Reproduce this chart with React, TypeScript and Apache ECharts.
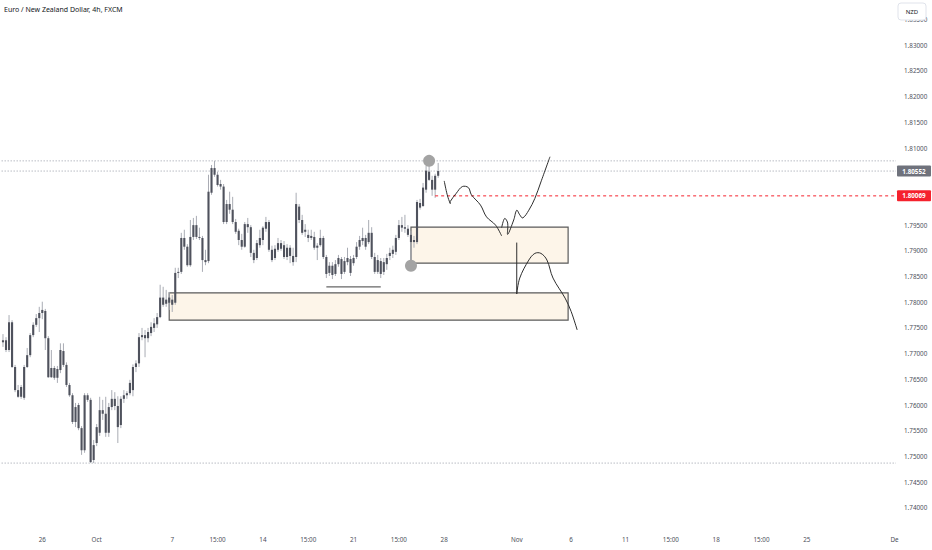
import React, { useEffect, useRef } from 'react';
import * as echarts from 'echarts';

const TITLE = 'Euro / New Zealand Dollar, 4h, FXCM';
const CURRENCY = 'NZD';
const SLOT_COUNT = 296;
const Y_MIN = 1.735;
const Y_MAX = 1.8388;
const Y_STEP = 0.005;

const X_LABELS: [number, string][] = [
  [13, '26'], [31, 'Oct'], [56, '7'], [71, '15:00'], [86, '14'], [101, '15:00'],
  [116, '21'], [131, '15:00'], [146, '28'], [170, 'Nov'], [188, '6'], [206, '11'],
  [221, '15:00'], [236, '18'], [251, '15:00'], [266, '25'], [295, 'De'],
];

// [open, close, low, high]
const CANDLES: number[][] = [
  [1.7722, 1.7726, 1.7713, 1.7738], [1.7726, 1.7707, 1.7703, 1.7732], [1.7707, 1.7761, 1.7703, 1.7775],
  [1.7761, 1.7674, 1.7672, 1.7765], [1.7674, 1.7629, 1.7625, 1.7678], [1.7629, 1.7616, 1.7614, 1.7639],
  [1.7616, 1.7635, 1.7612, 1.7639], [1.7614, 1.7674, 1.7610, 1.7678], [1.7674, 1.7697, 1.7672, 1.7711],
  [1.7697, 1.7736, 1.7693, 1.7740], [1.7736, 1.7756, 1.7732, 1.7761], [1.7756, 1.7769, 1.7752, 1.7777],
  [1.7769, 1.7779, 1.7742, 1.7791], [1.7779, 1.7785, 1.7767, 1.7801], [1.7783, 1.7730, 1.7707, 1.7787],
  [1.7730, 1.7654, 1.7653, 1.7734], [1.7654, 1.7672, 1.7653, 1.7707], [1.7672, 1.7653, 1.7649, 1.7676],
  [1.7653, 1.7670, 1.7643, 1.7676], [1.7668, 1.7707, 1.7662, 1.7720], [1.7705, 1.7678, 1.7674, 1.7720],
  [1.7678, 1.7639, 1.7635, 1.7683], [1.7639, 1.7619, 1.7616, 1.7643], [1.7619, 1.7567, 1.7563, 1.7623],
  [1.7567, 1.7596, 1.7557, 1.7604], [1.7600, 1.7555, 1.7551, 1.7604], [1.7555, 1.7512, 1.7503, 1.7559],
  [1.7512, 1.7619, 1.7507, 1.7623], [1.7619, 1.7610, 1.7606, 1.7623], [1.7610, 1.7489, 1.7487, 1.7614],
  [1.7493, 1.7522, 1.7487, 1.7532], [1.7526, 1.7557, 1.7520, 1.7563], [1.7546, 1.7590, 1.7540, 1.7616],
  [1.7590, 1.7583, 1.7571, 1.7610], [1.7583, 1.7546, 1.7538, 1.7616], [1.7546, 1.7596, 1.7538, 1.7604],
  [1.7596, 1.7612, 1.7590, 1.7629], [1.7612, 1.7598, 1.7590, 1.7625], [1.7598, 1.7557, 1.7526, 1.7617],
  [1.7561, 1.7612, 1.7555, 1.7617], [1.7612, 1.7619, 1.7604, 1.7629], [1.7619, 1.7623, 1.7612, 1.7627],
  [1.7623, 1.7643, 1.7619, 1.7649], [1.7629, 1.7674, 1.7617, 1.7679], [1.7674, 1.7681, 1.7664, 1.7687],
  [1.7681, 1.7732, 1.7674, 1.7740], [1.7732, 1.7736, 1.7726, 1.7750], [1.7736, 1.7730, 1.7693, 1.7746],
  [1.7730, 1.7742, 1.7722, 1.7750], [1.7740, 1.7752, 1.7734, 1.7761], [1.7750, 1.7759, 1.7742, 1.7769],
  [1.7757, 1.7771, 1.7750, 1.7779], [1.7771, 1.7809, 1.7769, 1.7834], [1.7809, 1.7795, 1.7791, 1.7830],
  [1.7797, 1.7805, 1.7791, 1.7824], [1.7799, 1.7809, 1.7785, 1.7820], [1.7805, 1.7795, 1.7781, 1.7814],
  [1.7799, 1.7857, 1.7795, 1.7867], [1.7857, 1.7859, 1.7847, 1.7867], [1.7859, 1.7925, 1.7855, 1.7935],
  [1.7925, 1.7908, 1.7902, 1.7941], [1.7908, 1.7872, 1.7869, 1.7913], [1.7872, 1.7927, 1.7869, 1.7960],
  [1.7927, 1.7950, 1.7921, 1.7964], [1.7950, 1.7927, 1.7923, 1.7968], [1.7927, 1.7925, 1.7921, 1.7945],
  [1.7925, 1.7882, 1.7859, 1.7929], [1.7882, 1.7878, 1.7872, 1.7902], [1.7880, 1.8015, 1.7876, 1.8048],
  [1.8013, 1.8061, 1.8009, 1.8067], [1.8061, 1.8048, 1.8044, 1.8075], [1.8048, 1.8028, 1.8025, 1.8054],
  [1.8030, 1.8025, 1.8019, 1.8038], [1.8025, 1.7956, 1.7952, 1.8030], [1.7956, 1.7991, 1.7952, 1.7999],
  [1.7991, 1.7980, 1.7972, 1.8015], [1.7980, 1.7956, 1.7952, 1.8005], [1.7956, 1.7937, 1.7933, 1.7962],
  [1.7939, 1.7921, 1.7911, 1.7943], [1.7921, 1.7908, 1.7902, 1.7933], [1.7908, 1.7952, 1.7906, 1.7956],
  [1.7952, 1.7946, 1.7935, 1.7964], [1.7946, 1.7896, 1.7888, 1.7950], [1.7896, 1.7882, 1.7876, 1.7902],
  [1.7886, 1.7915, 1.7882, 1.7921], [1.7911, 1.7925, 1.7906, 1.7941], [1.7921, 1.7945, 1.7911, 1.7948],
  [1.7943, 1.7956, 1.7937, 1.7966], [1.7956, 1.7902, 1.7898, 1.7960], [1.7902, 1.7882, 1.7878, 1.7910],
  [1.7886, 1.7904, 1.7882, 1.7911], [1.7902, 1.7915, 1.7898, 1.7925], [1.7915, 1.7904, 1.7900, 1.7921],
  [1.7911, 1.7888, 1.7884, 1.7919], [1.7888, 1.7906, 1.7882, 1.7913], [1.7906, 1.7890, 1.7876, 1.7911],
  [1.7890, 1.7878, 1.7871, 1.7906], [1.7888, 1.7991, 1.7878, 1.8013], [1.7986, 1.7960, 1.7954, 1.7991],
  [1.7960, 1.7935, 1.7931, 1.7970], [1.7937, 1.7941, 1.7927, 1.7952], [1.7931, 1.7925, 1.7917, 1.7941],
  [1.7925, 1.7929, 1.7921, 1.7941], [1.7927, 1.7906, 1.7902, 1.7937], [1.7906, 1.7910, 1.7882, 1.7915],
  [1.7911, 1.7925, 1.7908, 1.7941], [1.7925, 1.7888, 1.7884, 1.7929], [1.7888, 1.7855, 1.7847, 1.7892],
  [1.7857, 1.7871, 1.7851, 1.7878], [1.7871, 1.7853, 1.7845, 1.7878], [1.7855, 1.7874, 1.7851, 1.7882],
  [1.7874, 1.7886, 1.7869, 1.7892], [1.7884, 1.7855, 1.7845, 1.7888], [1.7859, 1.7880, 1.7855, 1.7888],
  [1.7878, 1.7886, 1.7872, 1.7906], [1.7884, 1.7857, 1.7851, 1.7890], [1.7876, 1.7886, 1.7871, 1.7892],
  [1.7888, 1.7908, 1.7884, 1.7917], [1.7908, 1.7921, 1.7902, 1.7929], [1.7919, 1.7925, 1.7911, 1.7945],
  [1.7925, 1.7908, 1.7902, 1.7931], [1.7917, 1.7935, 1.7913, 1.7960], [1.7935, 1.7888, 1.7884, 1.7946],
  [1.7888, 1.7859, 1.7855, 1.7896], [1.7859, 1.7882, 1.7855, 1.7892], [1.7880, 1.7855, 1.7847, 1.7886],
  [1.7859, 1.7878, 1.7853, 1.7886], [1.7874, 1.7886, 1.7863, 1.7894], [1.7890, 1.7896, 1.7882, 1.7906],
  [1.7894, 1.7902, 1.7886, 1.7910], [1.7898, 1.7925, 1.7892, 1.7931], [1.7925, 1.7950, 1.7921, 1.7960],
  [1.7950, 1.7945, 1.7937, 1.7966], [1.7946, 1.7943, 1.7935, 1.7970], [1.7943, 1.7931, 1.7927, 1.7950],
  [1.7931, 1.7917, 1.7872, 1.7939], [1.7917, 1.7921, 1.7906, 1.7929], [1.7917, 1.7995, 1.7913, 1.7999],
  [1.7993, 1.7984, 1.7980, 1.8001], [1.7987, 1.8023, 1.7986, 1.8032], [1.8019, 1.8056, 1.8013, 1.8065],
  [1.8054, 1.8038, 1.8036, 1.8065], [1.8038, 1.8019, 1.8007, 1.8046], [1.8019, 1.8046, 1.8003, 1.8050],
  [1.8046, 1.80552, 1.8042, 1.8071],
];

const LAST_PRICE = 1.80552;
const RAY_PRICE = 1.80069;
const RAY_START = 143;
const H_LEVELS = [1.8075, 1.7487];

// zones: [startIndex, endIndex, topPrice, bottomPrice]
const ZONES: number[][] = [
  [135.3, 186.5, 1.7946, 1.7876],
  [54.7, 186.5, 1.7818, 1.7765],
];
// support line under lows: [startIndex, endIndex, price]
const SUPPORT_LINE = [106.9, 125.0, 1.7830];
// marker circles: [index, price]
const MARKERS: number[][] = [[140.6, 1.8075], [135.3, 1.7871]];

// freehand projection paths: [index, price]
const PATH_A: number[][] = [
  [146.3, 1.8036], [147.1, 1.8009], [147.6, 1.7992], [148.4, 1.7996], [149.8, 1.8012],
  [152.0, 1.8025], [153.7, 1.8023], [155.3, 1.8009], [157.5, 1.7989], [160.3, 1.7966],
  [162.5, 1.7950], [165.2, 1.7929],
];
const PATH_B: number[][] = [
  [164.5, 1.7945], [166.0, 1.7963], [166.7, 1.7954], [167.4, 1.7932], [168.9, 1.7960],
  [170.0, 1.7979], [171.1, 1.7970], [172.4, 1.7964], [174.0, 1.7979], [175.7, 1.8002],
  [177.9, 1.8034], [180.6, 1.8083],
];
const PATH_C_DROP: number[][] = [[169.6, 1.7916], [169.6, 1.7816]];
const PATH_C: number[][] = [
  [169.6, 1.7816], [171.3, 1.7847], [174.0, 1.7882], [176.3, 1.7895], [177.9, 1.7895],
  [179.5, 1.7882], [182.3, 1.7847], [185.6, 1.7808], [187.8, 1.7782], [189.8, 1.7746],
];

const FONT = '"Noto Sans", "DejaVu Sans", sans-serif';
const BODY = '#4f525d';
const WICK = '#a9acb4';
const LEVEL = '#b9bcc4';
const ZONE_FILL = '#fdf5e9';
const ZONE_STROKE = '#5a5a5a';
const INK = '#2e2e2e';
const RED = '#f5222d';
const LABEL_GRAY = '#6f727c';
const AXIS_TEXT = '#4c4f5a';

export default function App() {
  const ref = useRef<HTMLDivElement>(null);

  useEffect(() => {
    document.body.style.margin = '0';
    const chart = echarts.init(ref.current!, null, { renderer: 'svg' });
    const labelMap = new Map<number, string>(X_LABELS);
    const cats = Array.from({ length: SLOT_COUNT }, (_, i) => String(i));
    const candleData = CANDLES.map((c, i) => [i, c[0], c[1], c[2], c[3]]);

    const pts = (api: any, list: number[][]) => list.map((p) => api.coord([p[0], p[1]]));
    const hiddenByTag = (v: number) =>
      Math.abs(v - LAST_PRICE) < 0.0016 || Math.abs(v - RAY_PRICE) < 0.0016;

    const option: any = {
      animation: false,
      backgroundColor: '#ffffff',
      textStyle: { fontFamily: FONT },
      grid: { left: 0, right: 36, top: 0, height: 533.5, containLabel: false },
      xAxis: {
        type: 'category',
        data: cats,
        boundaryGap: true,
        axisLine: { show: false },
        axisTick: { show: false },
        splitLine: { show: false },
        axisLabel: {
          interval: 0,
          margin: 3,
          fontSize: 6.3,
          color: AXIS_TEXT,
          fontFamily: FONT,
          formatter: (_v: string, i: number) => labelMap.get(i) || '',
        },
      },
      yAxis: {
        type: 'value',
        position: 'right',
        min: Y_MIN,
        max: Y_MAX,
        interval: Y_STEP,
        axisLine: { show: false },
        axisTick: { show: false },
        splitLine: { show: false },
        axisLabel: {
          margin: 8,
          fontSize: 6.3,
          color: AXIS_TEXT,
          fontFamily: FONT,
          showMaxLabel: false,
          formatter: (v: number) =>
            v < 1.7399 || v > 1.8351 || hiddenByTag(v) ? '' : v.toFixed(5),
        },
      },
      series: [
        {
          type: 'custom',
          name: 'zones',
          silent: true,
          z: 1,
          data: [[0, LAST_PRICE]],
          encode: { x: 0, y: 1 },
          renderItem: (params: any, api: any) => {
            const cs = params.coordSys;
            const left = cs.x;
            const right = cs.x + cs.width;
            const children: any[] = [];
            [...H_LEVELS, LAST_PRICE].forEach((lv) => {
              const y = api.coord([0, lv])[1];
              children.push({
                type: 'line',
                shape: { x1: left, y1: y, x2: right, y2: y },
                style: { stroke: LEVEL, lineWidth: 1, lineDash: [1.5, 1.5] },
              });
            });
            ZONES.forEach((z) => {
              const a = api.coord([z[0], z[2]]);
              const b = api.coord([z[1], z[3]]);
              children.push({
                type: 'rect',
                shape: { x: a[0], y: a[1], width: b[0] - a[0], height: b[1] - a[1] },
                style: { fill: ZONE_FILL, stroke: ZONE_STROKE, lineWidth: 1.2 },
              });
            });
            return { type: 'group', children };
          },
        },
        {
          type: 'custom',
          name: 'EURNZD',
          silent: true,
          z: 2,
          data: candleData,
          encode: { x: 0, y: [1, 2, 3, 4] },
          renderItem: (_params: any, api: any) => {
            const i = api.value(0);
            const o = api.coord([i, api.value(1)]);
            const c = api.coord([i, api.value(2)]);
            const l = api.coord([i, api.value(3)]);
            const h = api.coord([i, api.value(4)]);
            const w = api.size([1, 0])[0] * 0.7;
            const x = o[0];
            const top = Math.min(o[1], c[1]);
            const hgt = Math.max(1, Math.abs(o[1] - c[1]));
            return {
              type: 'group',
              children: [
                { type: 'line', shape: { x1: x, y1: h[1], x2: x, y2: l[1] }, style: { stroke: WICK, lineWidth: 1 } },
                { type: 'rect', shape: { x: x - w / 2, y: top, width: w, height: hgt }, style: { fill: BODY } },
              ],
            };
          },
        },
        {
          type: 'custom',
          name: 'drawings',
          silent: true,
          clip: false,
          z: 3,
          data: [[0, LAST_PRICE]],
          encode: { x: 0, y: 1 },
          renderItem: (params: any, api: any) => {
            const cs = params.coordSys;
            const right = cs.x + cs.width;
            const children: any[] = [];
            const r0 = api.coord([RAY_START, RAY_PRICE]);
            children.push({
              type: 'line',
              shape: { x1: r0[0], y1: r0[1], x2: right, y2: r0[1] },
              style: { stroke: RED, lineWidth: 1, lineDash: [3, 3] },
            });
            const s0 = api.coord([SUPPORT_LINE[0], SUPPORT_LINE[2]]);
            const s1 = api.coord([SUPPORT_LINE[1], SUPPORT_LINE[2]]);
            children.push({
              type: 'line',
              shape: { x1: s0[0], y1: s0[1], x2: s1[0], y2: s1[1] },
              style: { stroke: '#666', lineWidth: 1.2 },
            });
            [PATH_A, PATH_B, PATH_C].forEach((p) => {
              children.push({
                type: 'polyline',
                shape: { points: pts(api, p), smooth: 0.35 },
                style: { stroke: INK, lineWidth: 1, fill: 'none' },
              });
            });
            const d = pts(api, PATH_C_DROP);
            children.push({
              type: 'line',
              shape: { x1: d[0][0], y1: d[0][1], x2: d[1][0], y2: d[1][1] },
              style: { stroke: INK, lineWidth: 1 },
            });
            MARKERS.forEach((m) => {
              const c = api.coord([m[0], m[1]]);
              children.push({
                type: 'circle',
                shape: { cx: c[0], cy: c[1], r: 6 },
                style: { fill: '#a3a3a3' },
              });
            });
            const addLabel = (price: number, bg: string) => {
              const y = api.coord([0, price])[1];
              children.push({
                type: 'rect',
                shape: { x: right + 1, y: y - 5.5, width: 34, height: 11, r: 1 },
                style: { fill: bg },
              });
              children.push({
                type: 'text',
                style: {
                  text: price.toFixed(5),
                  x: right + 18,
                  y: y,
                  align: 'center',
                  verticalAlign: 'middle',
                  fill: '#ffffff',
                  fontSize: 6.3,
                  fontFamily: FONT,
                  fontWeight: 'bold',
                },
              });
            };
            addLabel(LAST_PRICE, LABEL_GRAY);
            addLabel(RAY_PRICE, RED);
            return { type: 'group', children };
          },
        },
      ],
      graphic: [
        {
          type: 'text',
          x: 4,
          y: 6,
          z: 100,
          style: { text: TITLE, fill: '#131722', fontSize: 7, fontFamily: FONT },
        },
        {
          type: 'rect',
          x: 898,
          y: 3,
          z: 100,
          shape: { x: 0, y: 0, width: 28, height: 17, r: 3 },
          style: { fill: '#ffffff', stroke: '#e0e3eb', lineWidth: 1 },
        },
        {
          type: 'text',
          x: 912,
          y: 11.5,
          z: 101,
          style: { text: CURRENCY, fill: '#131722', fontSize: 6, fontFamily: FONT, align: 'center', verticalAlign: 'middle' },
        },
      ],
    };

    chart.setOption(option);
    return () => chart.dispose();
  }, []);

  return (
    <div
      ref={ref}
      style={{ position: 'fixed', left: 0, top: 0, width: 932, height: 550, background: '#ffffff' }}
    />
  );
}
